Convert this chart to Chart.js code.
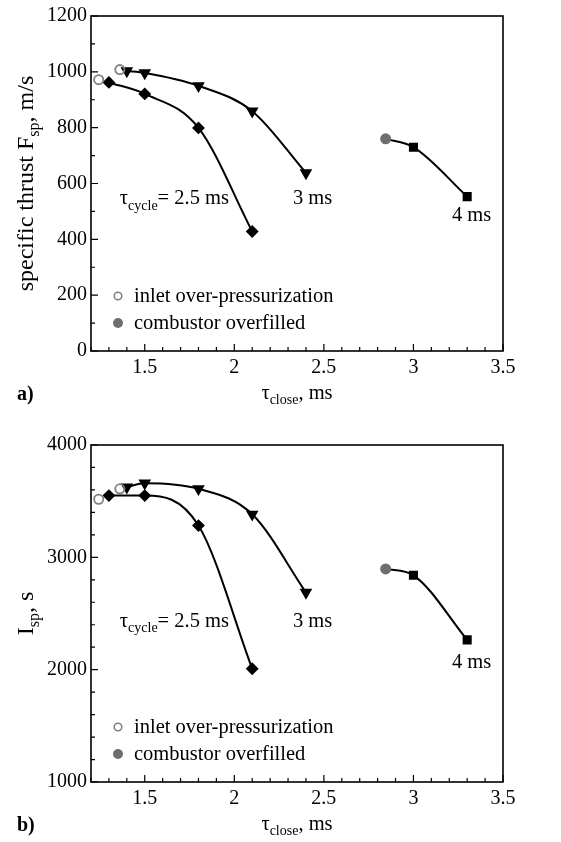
<!DOCTYPE html>
<html>
<head>
<meta charset="utf-8">
<script src="https://cdn.jsdelivr.net/npm/chart.js@4.4.0/dist/chart.umd.min.js"></script>
<style>
  body { margin: 0; background: #fff; }
  .panel { position: absolute; left: 0; width: 561px; height: 421px; }
</style>
</head>
<body>
<div class="panel" style="top:0px"><canvas id="chartA"></canvas></div>
<div class="panel" style="top:421px"><canvas id="chartB"></canvas></div>
<script>
// tau_cycle = 2.5 ms
const close25 = [1.3, 1.5, 1.8, 2.1];
const thrust25 = [962, 921, 799, 428];
const isp25 = [3550, 3550, 3283, 2008];
// tau_cycle = 3 ms
const close3 = [1.4, 1.5, 1.8, 2.1, 2.4];
const thrust3 = [1003, 996, 950, 859, 638];
const isp3 = [3625, 3660, 3610, 3383, 2688];
// tau_cycle = 4 ms
const close4 = [3.0, 3.3];
const thrust4 = [730, 553];
const isp4 = [2840, 2265];
// inlet over-pressurization (open circles)
const inletClose = [1.243, 1.361];
const inletThrust = [972, 1008];
const inletIsp = [3517, 3610];
// combustor overfilled (filled circle)
const overClose = [2.845];
const overThrust = [760];
const overIsp = [2897];

const xTicks = [1.5, 2, 2.5, 3, 3.5];
const thrustTicks = [0, 200, 400, 600, 800, 1000, 1200];
const ispTicks = [1000, 2000, 3000, 4000];

const FONT = '"Liberation Serif", "Times New Roman", serif';
const GRAY = '#6e6e6e';

function pts(xs, ys) {
  return xs.map((x, i) => ({ x: x, y: ys[i] }));
}

// text with subscripts, size = main font px
function richText(ctx, parts, x, y, align, size) {
  const sub = Math.round(size * 0.68);
  let w = 0;
  parts.forEach(p => {
    ctx.font = (p.sub ? sub : size) + 'px ' + FONT;
    w += ctx.measureText(p.t).width;
  });
  let cx = align === 'center' ? x - w / 2 : x;
  ctx.textAlign = 'left';
  ctx.textBaseline = 'alphabetic';
  parts.forEach(p => {
    ctx.font = (p.sub ? sub : size) + 'px ' + FONT;
    ctx.fillText(p.t, cx, y + (p.sub ? size * 0.25 : 0));
    cx += ctx.measureText(p.t).width;
  });
}

const decor = {
  id: 'decor',
  afterDraw(chart) {
    const o = chart.options.plugins.decor;
    const ctx = chart.ctx;
    const a = chart.chartArea;
    const xs = chart.scales.x, ys = chart.scales.y;
    ctx.save();
    ctx.fillStyle = '#000';
    ctx.strokeStyle = '#000';

    // frame
    ctx.lineWidth = 1.6;
    ctx.strokeRect(a.left, a.top, a.right - a.left, a.bottom - a.top);

    // inward ticks
    ctx.lineWidth = 1.2;
    ctx.beginPath();
    for (let i = 12; i <= 35; i++) {
      const px = xs.getPixelForValue(i / 10);
      const len = i % 5 === 0 ? 7 : 4;
      ctx.moveTo(px, a.bottom);
      ctx.lineTo(px, a.bottom - len);
    }
    for (let v = ys.min; v <= ys.max + 0.001; v += o.minorY) {
      const py = ys.getPixelForValue(v);
      const len = (v % o.majorY === 0) ? 7 : 4;
      ctx.moveTo(a.left, py);
      ctx.lineTo(a.left + len, py);
    }
    ctx.stroke();

    // curve labels
    o.labels.forEach(l => {
      richText(ctx, l.parts, xs.getPixelForValue(l.x), ys.getPixelForValue(l.y), 'left', 20.5);
    });

    // legend
    const lx = a.left + 27;
    const ly1 = a.bottom - 55, ly2 = a.bottom - 28;
    ctx.lineWidth = 1.6;
    ctx.strokeStyle = '#808080';
    ctx.beginPath();
    ctx.arc(lx, ly1, 3.8, 0, Math.PI * 2);
    ctx.stroke();
    ctx.fillStyle = GRAY;
    ctx.beginPath();
    ctx.arc(lx, ly2, 5, 0, Math.PI * 2);
    ctx.fill();
    ctx.fillStyle = '#000';
    ctx.font = '20.5px ' + FONT;
    ctx.textAlign = 'left';
    ctx.textBaseline = 'middle';
    ctx.fillText('inlet over-pressurization', lx + 16, ly1 + 1);
    ctx.fillText('combustor overfilled', lx + 16, ly2 + 1);

    // axis titles
    richText(ctx, [{ t: 'τ' }, { t: 'close', sub: true }, { t: ', ms' }], (a.left + a.right) / 2, a.bottom + 48, 'center', 20.5);
    ctx.save();
    ctx.translate(33, (a.top + a.bottom) / 2);
    ctx.rotate(-Math.PI / 2);
    ctx.fillStyle = '#000';
    richText(ctx, o.yTitle, 0, 0, 'center', 24);
    ctx.restore();

    // panel letter
    ctx.font = 'bold 20px ' + FONT;
    ctx.textAlign = 'left';
    ctx.textBaseline = 'alphabetic';
    ctx.fillText(o.letter, 17, a.bottom + 49);
    ctx.restore();
  }
};

function makeChart(id, cfg) {
  const lineStyle = {
    type: 'line',
    showLine: true,
    borderColor: '#000',
    borderWidth: 2,
    backgroundColor: '#000',
    pointBorderColor: '#000',
    pointBackgroundColor: '#000',
    cubicInterpolationMode: 'monotone'
  };
  return new Chart(document.getElementById(id), {
    type: 'scatter',
    data: {
      datasets: [
        {
          data: pts(inletClose, cfg.inlet),
          pointStyle: 'circle', pointRadius: 4.6, pointBorderWidth: 1.8,
          pointBorderColor: '#808080', pointBackgroundColor: 'rgba(0,0,0,0)'
        },
        {
          data: pts(overClose, cfg.over),
          pointStyle: 'circle', pointRadius: 5.5, pointBorderWidth: 0,
          pointBackgroundColor: GRAY, pointBorderColor: GRAY
        },
        Object.assign({}, lineStyle, {
          data: pts(close25, cfg.s25),
          pointStyle: 'rectRot', pointRadius: 5
        }),
        Object.assign({}, lineStyle, {
          data: pts(close3, cfg.s3),
          pointStyle: 'triangle', rotation: 180, pointRadius: 5.3
        }),
        Object.assign({}, lineStyle, {
          data: pts(overClose, cfg.over).concat(pts(close4, cfg.s4)),
          pointStyle: 'rect',
          pointRadius: c => c.dataIndex === 0 ? 0 : 5
        })
      ]
    },
    options: {
      responsive: true,
      maintainAspectRatio: false,
      animation: false,
      layout: { padding: { left: 0, right: 58, top: cfg.top, bottom: 0 } },
      plugins: {
        legend: { display: false },
        tooltip: { enabled: false },
        decor: cfg.decor
      },
      scales: {
        x: {
          type: 'linear',
          min: 1.2,
          max: 3.5,
          afterBuildTicks: s => { s.ticks = xTicks.map(v => ({ value: v })); },
          afterFit: s => { s.height = cfg.xHeight; },
          grid: { display: false, drawTicks: false },
          border: { display: false },
          ticks: {
            color: '#000',
            font: { family: FONT, size: 20 },
            padding: 5,
            maxRotation: 0,
            callback: v => String(v)
          }
        },
        y: {
          type: 'linear',
          min: cfg.yTicks[0],
          max: cfg.yTicks[cfg.yTicks.length - 1],
          afterBuildTicks: s => { s.ticks = cfg.yTicks.map(v => ({ value: v })); },
          afterFit: s => { s.width = 91; },
          grid: { display: false, drawTicks: false },
          border: { display: false },
          ticks: {
            color: '#000',
            font: { family: FONT, size: 20 },
            padding: 4,
            callback: v => String(v)
          }
        }
      }
    },
    plugins: [decor]
  });
}

makeChart('chartA', {
  inlet: inletThrust, over: overThrust, s25: thrust25, s3: thrust3, s4: thrust4,
  yTicks: thrustTicks, top: 15, xHeight: 70,
  decor: {
    letter: 'a)', minorY: 100, majorY: 200,
    yTitle: [{ t: 'specific thrust F' }, { t: 'sp', sub: true }, { t: ', m/s' }],
    labels: [
      { x: 1.361, y: 525, parts: [{ t: 'τ' }, { t: 'cycle', sub: true }, { t: '= 2.5 ms' }] },
      { x: 2.327, y: 525, parts: [{ t: '3 ms' }] },
      { x: 3.215, y: 467, parts: [{ t: '4 ms' }] }
    ]
  }
});

makeChart('chartB', {
  inlet: inletIsp, over: overIsp, s25: isp25, s3: isp3, s4: isp4,
  yTicks: ispTicks, top: 24, xHeight: 60,
  decor: {
    letter: 'b)', minorY: 200, majorY: 1000,
    yTitle: [{ t: 'I' }, { t: 'sp', sub: true }, { t: ', s' }],
    labels: [
      { x: 1.361, y: 2382, parts: [{ t: 'τ' }, { t: 'cycle', sub: true }, { t: '= 2.5 ms' }] },
      { x: 2.327, y: 2382, parts: [{ t: '3 ms' }] },
      { x: 3.215, y: 2011, parts: [{ t: '4 ms' }] }
    ]
  }
});
</script>
</body>
</html>
